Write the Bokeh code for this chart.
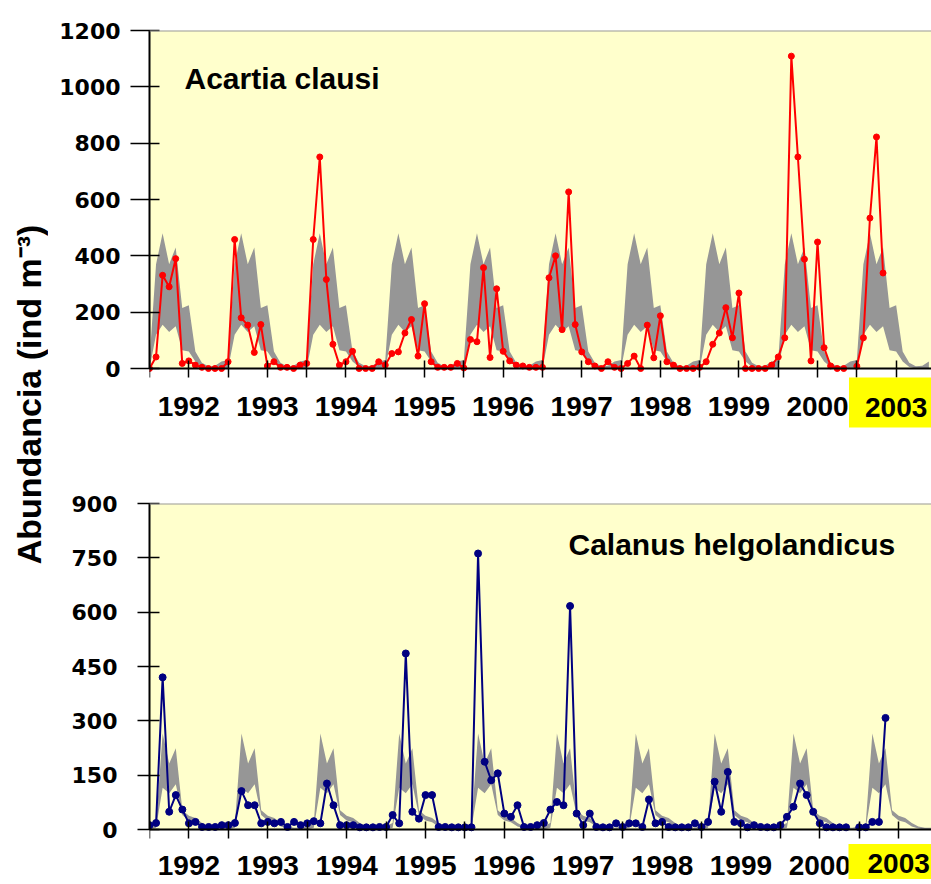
from math import pi
from bokeh.plotting import figure
from bokeh.models import Range1d, FixedTicker, Label, Span, BoxAnnotation
from bokeh.layouts import row, column
from bokeh.embed import file_html
from bokeh.resources import INLINE

nan = float("nan")

# ---------------- data ----------------
year_labels = ["1992", "1993", "1994", "1995", "1996", "1997", "1998", "1999", "2000", "2003"]

# Acartia clausi, monthly abundance (ind m-3), Jan..Dec of each year
acartia = [
    0, 41, 331, 290, 390, 18, 27, 12, 4, 0, 0, 0,            # 1992
    24, 458, 180, 154, 57, 156, 9, 24, 4, 4, 0, 12,          # 1993
    18, 458, 751, 316, 86, 12, 24, 61, 0, 0, 0, 24,          # 1994
    12, 53, 59, 126, 174, 44, 230, 24, 4, 4, 4, 18,          # 1995
    2, 103, 95, 358, 39, 283, 61, 27, 12, 9, 4, 4,           # 1996
    4, 322, 400, 138, 627, 156, 59, 24, 9, 0, 24, 4,         # 1997
    0, 18, 44, 0, 154, 38, 187, 24, 12, 0, 0, 0,             # 1998
    4, 24, 86, 126, 216, 109, 268, 0, 0, 0, 0, 12,           # 1999
    41, 109, 1109, 751, 388, 27, 449, 74, 9, 0, 0, nan,      # 2000
    8, 109, 534, 822, 339, nan, nan, nan, nan, nan, nan, nan,  # 2003
]
# Acartia climatological range (monthly low / high)
acartia_low = [0, 120, 155, 130, 150, 65, 60, 25, 5, 0, 0, 2]
acartia_high = [30, 370, 480, 370, 430, 215, 225, 60, 20, 8, 10, 25]

# Calanus helgolandicus, monthly abundance (ind m-3)
calanus = [
    12, 18, 420, 49, 95, 55, 17, 21, 7, 7, 7, 12,            # 1992
    12, 18, 106, 67, 67, 17, 21, 17, 21, 7, 21, 12,          # 1993
    17, 23, 17, 127, 67, 12, 12, 12, 6, 6, 6, 7,             # 1994
    7, 40, 17, 486, 49, 30, 95, 95, 7, 7, 6, 6,              # 1995
    6, 6, 762, 187, 136, 155, 44, 35, 67, 7, 7, 12,          # 1996
    18, 55, 76, 67, 617, 44, 12, 44, 7, 6, 6, 17,            # 1997
    7, 17, 17, 7, 83, 17, 21, 7, 6, 6, 6, 17,                # 1998
    7, 21, 132, 49, 159, 21, 17, 6, 12, 7, 6, 6,             # 1999
    12, 35, 63, 127, 95, 49, 17, 6, 6, 6, 6, nan,            # 2000
    6, 6, 21, 21, 308, nan, nan, nan, nan, nan, nan, nan,    # 2003
]
calanus_low = [0, 5, 115, 100, 125, 40, 25, 20, 8, 3, 0, 0]
calanus_high = [10, 18, 265, 182, 224, 53, 38, 32, 18, 8, 5, 5]

acartia_ticks = [0, 200, 400, 600, 800, 1000, 1200]
calanus_ticks = [0, 150, 300, 450, 600, 750, 900]

# --------------- helpers ---------------
n_years = len(year_labels)
months = list(range(12 * n_years))
mid_ticks = [12 * k + 6 for k in range(n_years)]
edge_ticks = [12 * k for k in range(n_years)]

BG = "#FFFFCC"
BAND = "#969696"


def panel(width, height, border_left, border_top, plot_px, below_px, xmax, ymax,
          values, low, high, color, msize, yticks, ytick_out, ystandoff,
          xstandoff, title, title_x, title_y, box_y, box_pad):
    ymin = -ymax * below_px / plot_px
    p = figure(width=width, height=height, output_backend="svg",
               toolbar_location=None,
               x_range=Range1d(0, xmax), y_range=Range1d(ymin, ymax),
               min_border_left=border_left, min_border_right=0,
               min_border_top=border_top, min_border_bottom=0)
    p.background_fill_color = "white"
    p.border_fill_color = "white"
    p.outline_line_color = None
    p.grid.visible = False

    p.add_layout(BoxAnnotation(bottom=0, top=ymax, fill_color=BG, fill_alpha=1,
                               line_color=None, level="underlay"))

    band_low = low * n_years
    band_high = high * n_years
    p.varea(x=months, y1=band_low, y2=band_high, fill_color=BAND)
    p.line(months, values, line_color=color, line_width=2)
    p.scatter(months, values, size=msize, fill_color=color, line_color=color)

    p.add_layout(Span(location=ymax, dimension="width", line_color="#9a9a9a",
                      line_width=2))

    xa = p.xaxis[0]
    xa.fixed_location = 0
    xa.ticker = FixedTicker(ticks=mid_ticks, minor_ticks=edge_ticks)
    overrides = {t: lab for t, lab in zip(mid_ticks, year_labels)}
    overrides[mid_ticks[-1]] = ""
    xa.major_label_overrides = overrides
    xa.axis_line_color = "black"
    xa.axis_line_width = 2
    xa.major_tick_line_color = "black"
    xa.minor_tick_line_color = "black"
    xa.major_tick_line_width = 1.5
    xa.minor_tick_line_width = 1.5
    xa.major_tick_in = 8
    xa.major_tick_out = 9
    xa.minor_tick_in = 8
    xa.minor_tick_out = 9
    xa.major_label_text_font = "Liberation Sans"
    xa.major_label_text_font_style = "bold"
    xa.major_label_text_font_size = "28px"
    xa.major_label_text_color = "black"
    xa.major_label_standoff = xstandoff

    ya = p.yaxis[0]
    ya.bounds = (0, ymax)
    ya.ticker = FixedTicker(ticks=yticks)
    ya.axis_line_color = "black"
    ya.axis_line_width = 2
    ya.major_tick_line_color = "black"
    ya.major_tick_line_width = 1.5
    ya.major_tick_in = 10
    ya.major_tick_out = ytick_out
    ya.minor_tick_line_color = None
    ya.major_label_text_font = "DejaVu Sans"
    ya.major_label_text_font_style = "bold"
    ya.major_label_text_font_size = "22px"
    ya.major_label_text_color = "black"
    ya.major_label_standoff = ystandoff

    p.add_layout(Label(x=title_x, y=title_y, x_units="screen", y_units="screen",
                       text=title, text_font="Liberation Sans",
                       text_font_style="bold", text_font_size="30px",
                       text_color="black", text_baseline="middle"))

    # highlighted last-year label; padding given as (left, right, top, bottom)
    p.add_layout(Label(x=mid_ticks[-1], y=box_y, x_units="data", y_units="screen",
                       text=year_labels[-1], text_font="Liberation Sans",
                       text_font_style="bold", text_font_size="28px",
                       text_color="black", text_align="center",
                       text_baseline="middle",
                       background_fill_color="#FFFF00",
                       padding=box_pad))
    return p


# top panel: canvas 0..460, frame from y=30; zero line at 368
top = panel(883, 460, 101, 30, 338, 92, 119.4, 1200, acartia, acartia_low, acartia_high,
            "#FF0000", 6, acartia_ticks, 19, 10, 19,
            "Acartia clausi", 35, 382, 58, (16, 16, 20, 11))

# bottom panel: canvas 460..884, frame from y=503; zero line at 829
bottom = panel(883, 424, 94, 43, 326, 55, 119.0, 900, calanus, calanus_low, calanus_high,
               "#000080", 7, calanus_ticks, 12, 20, 17,
               "Calanus helgolandicus", 419, 340, 23, (19, 19, 10, 6))

lab = figure(width=48, height=884, output_backend="svg", toolbar_location=None,
             min_border=0, x_axis_location=None, y_axis_location=None,
             x_range=Range1d(0, 1), y_range=Range1d(0, 1))
lab.outline_line_color = None
lab.grid.visible = False
lab.background_fill_color = "white"
lab.border_fill_color = "white"
lab.add_layout(Label(x=28, y=490, x_units="screen", y_units="screen",
                     angle=pi / 2, text="Abundancia (ind m\u207b\u00b3)",
                     text_font="Liberation Sans", text_font_style="bold",
                     text_font_size="34px", text_color="black",
                     text_align="center", text_baseline="middle"))

layout = row(lab, column(top, bottom))

open("out.html", "w").write(file_html(layout, INLINE))
